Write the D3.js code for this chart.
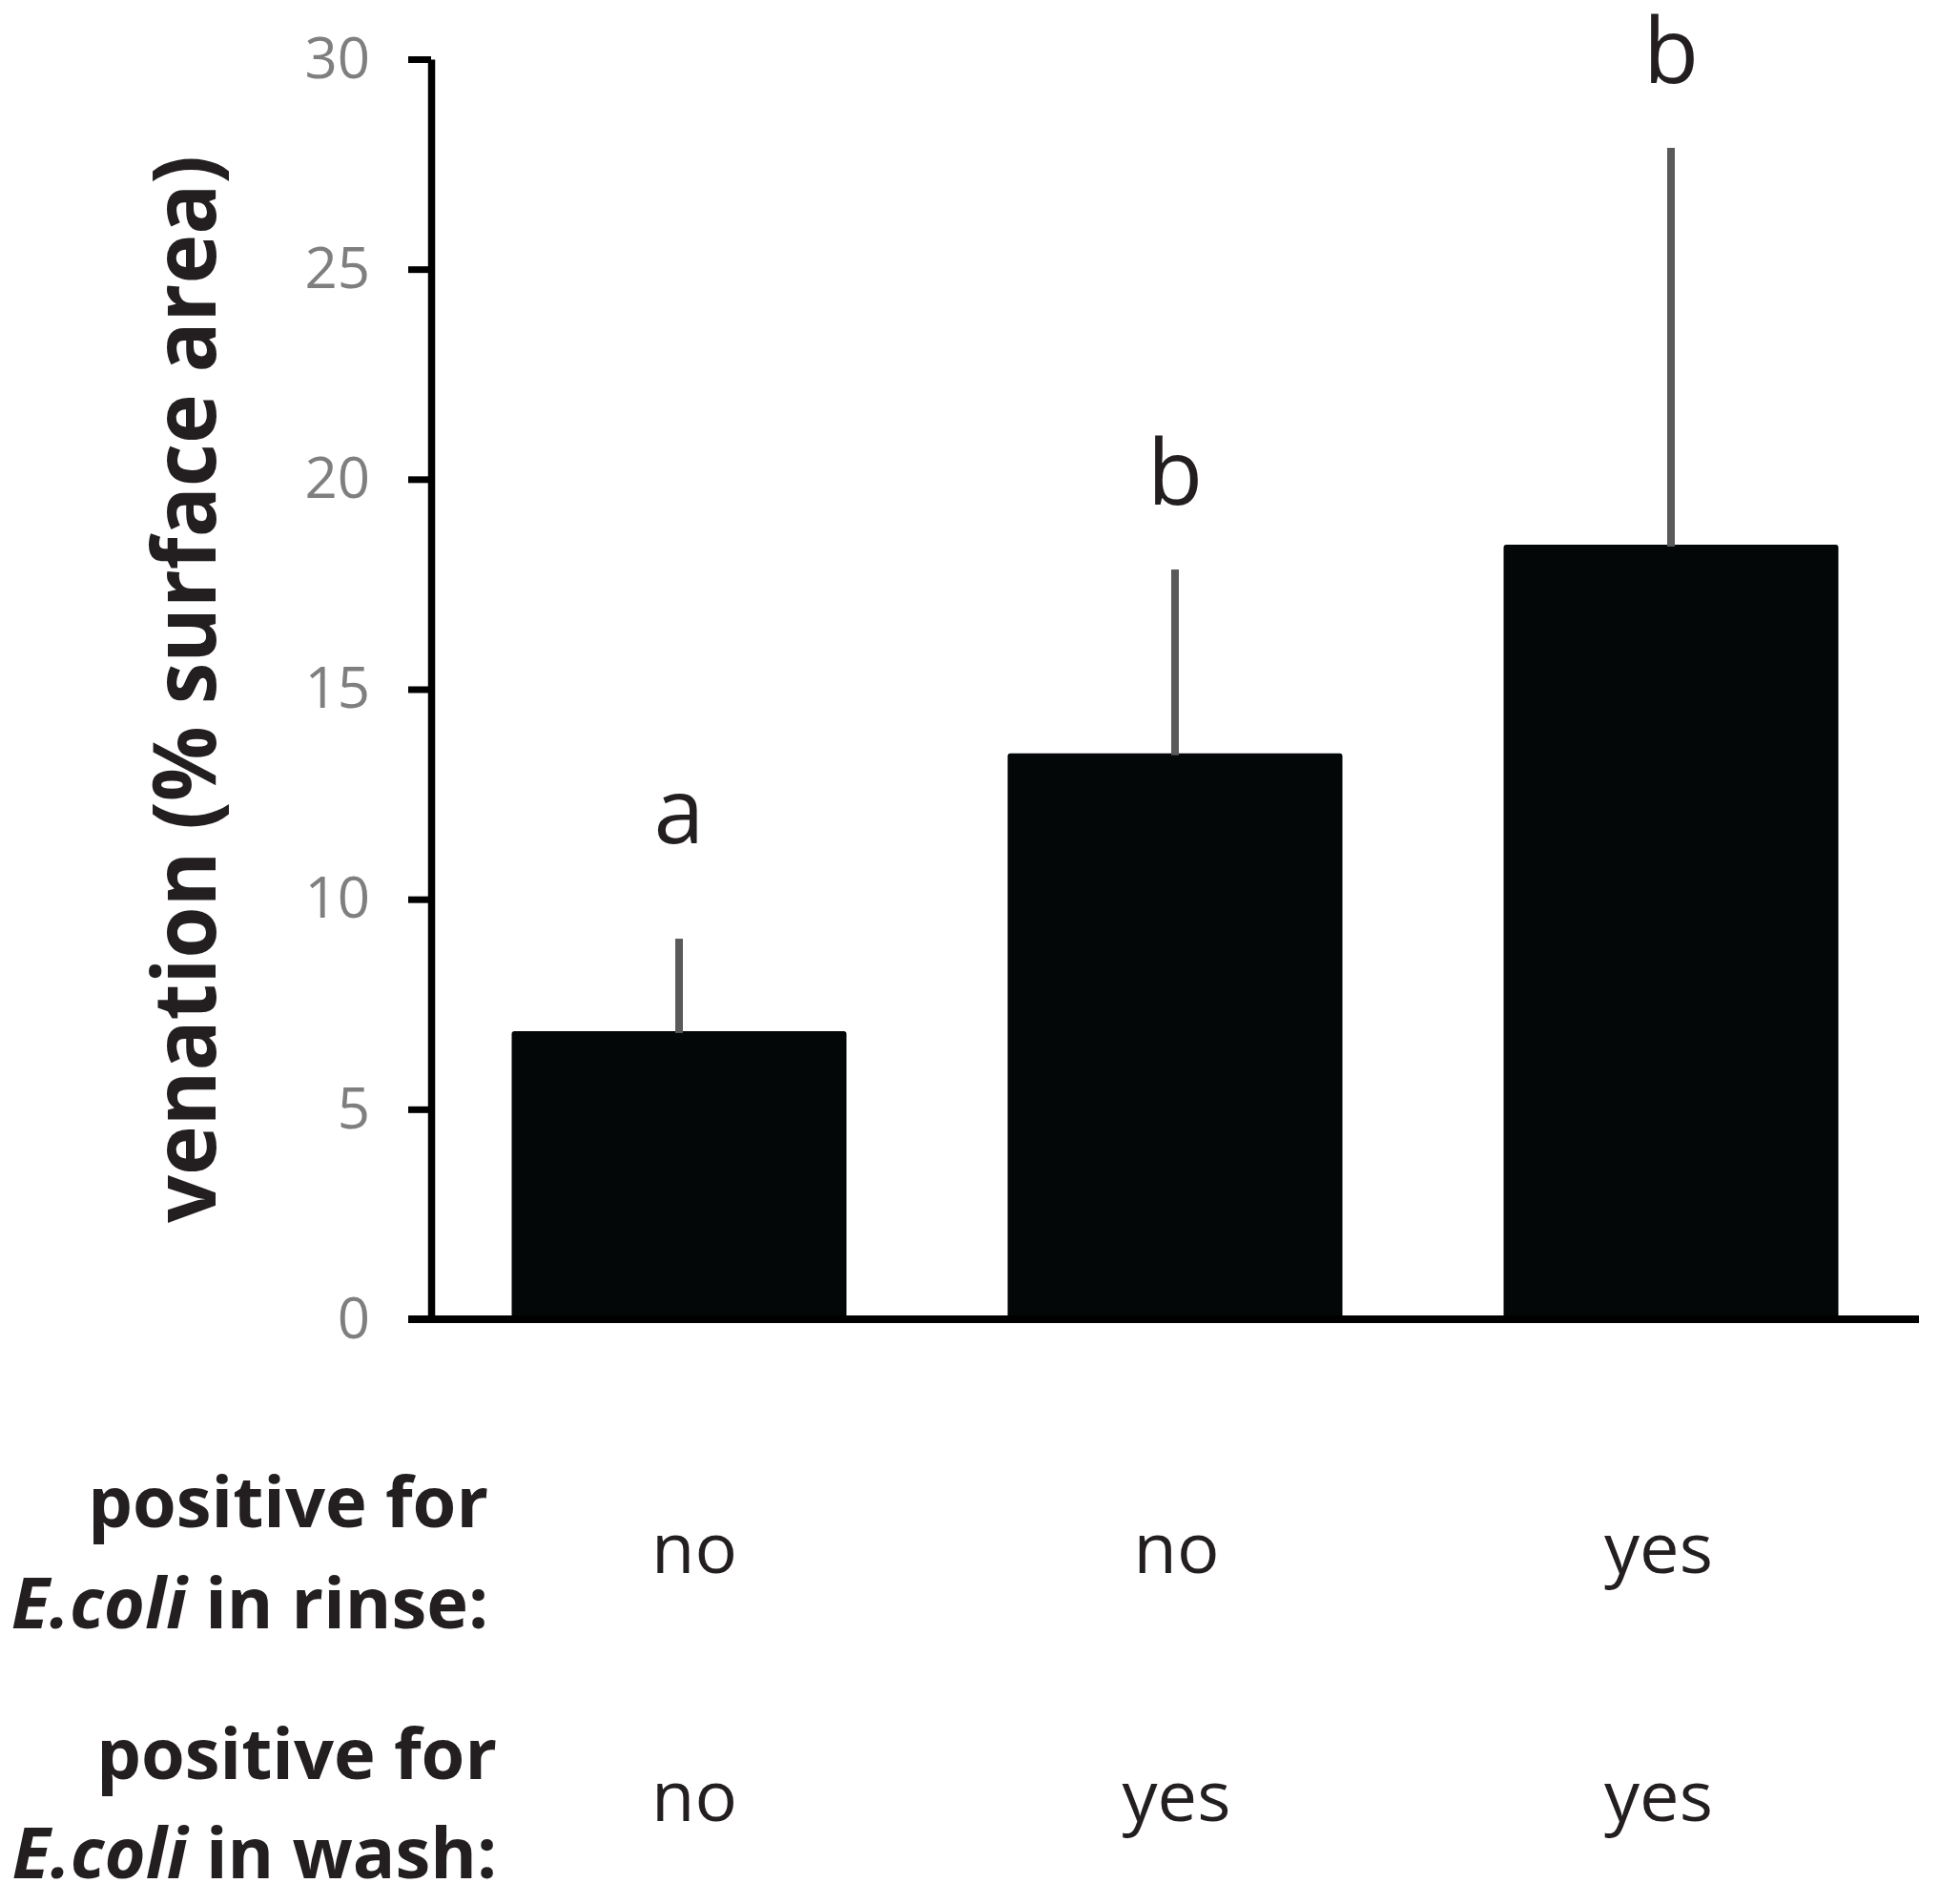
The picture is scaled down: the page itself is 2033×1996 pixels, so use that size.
<!DOCTYPE html>
<html>
<head>
<meta charset="utf-8">
<script src="https://cdn.jsdelivr.net/npm/d3@7"></script>
<style>
  body { margin: 0; background: #fff; }
  svg { display: block; }
</style>
</head>
<body>
<div id="chart"></div>
<script>
// values
var groups  = ["g1", "g2", "g3"];
var rinse   = ["no", "no", "yes"];
var wash    = ["no", "yes", "yes"];
var means   = [6.86, 13.47, 18.44];
var errs    = [2.20, 4.38, 9.45];
var letters = ["a", "b", "b"];
var yTicks  = [0, 5, 10, 15, 20, 25, 30];

var W = 2033, H = 1996;
var font = "'Open Sans', 'Noto Sans', sans-serif";

var svg = d3.select("#chart").append("svg")
    .attr("width", W)
    .attr("height", H);

var x = d3.scaleBand(groups, [452, 2012])
    .paddingInner(0.325)
    .paddingOuter(0.1625);

// the yes/no table columns sit a bit off the bar centres
var col = d3.scalePoint(groups, [728, 1739]);

var y = d3.scaleLinear([0, 30], [1383, 62]);

var rows = groups.map(function(g, i) {
  return { id: g, mean: means[i], err: errs[i], letter: letters[i], rinse: rinse[i], wash: wash[i] };
});

// bars
svg.selectAll("rect.bar").data(rows)
  .enter().append("rect")
    .attr("class", "bar")
    .attr("x", function(d) { return x(d.id); })
    .attr("y", function(d) { return y(d.mean); })
    .attr("width", x.bandwidth())
    .attr("height", function(d) { return y(0) - y(d.mean); })
    .attr("rx", 3)
    .attr("fill", "#040708");

// upper error bars
svg.selectAll("line.err").data(rows)
  .enter().append("line")
    .attr("class", "err")
    .attr("x1", function(d) { return x(d.id) + x.bandwidth() / 2; })
    .attr("x2", function(d) { return x(d.id) + x.bandwidth() / 2; })
    .attr("y1", function(d) { return y(d.mean) + 2; })
    .attr("y2", function(d) { return y(d.mean + d.err); })
    .attr("stroke", "#5a5a5a")
    .attr("stroke-width", 8);

// significance letters
svg.selectAll("text.sig").data(rows)
  .enter().append("text")
    .attr("class", "sig")
    .attr("x", function(d) { return x(d.id) + x.bandwidth() / 2; })
    .attr("y", function(d) { return y(d.mean + d.err) - (d.letter === "a" ? 100 : 68); })
    .attr("text-anchor", "middle")
    .attr("font-family", font)
    .attr("font-size", 95)
    .attr("fill", "#231f20")
    .text(function(d) { return d.letter; });

// y axis
var yAxis = svg.append("g")
    .attr("transform", "translate(452,0)")
    .call(d3.axisLeft(y).tickValues(yTicks).tickSize(24).tickSizeOuter(0).tickPadding(40));

yAxis.select(".domain").attr("stroke", "#000").attr("stroke-width", 7.5);
yAxis.selectAll(".tick line").attr("stroke", "#000").attr("stroke-width", 7);
yAxis.selectAll(".tick text")
    .attr("font-family", font)
    .attr("font-size", 60)
    .attr("fill", "#7f7f7f");

// x baseline
svg.append("line")
    .attr("x1", 428).attr("x2", 2012)
    .attr("y1", y(0)).attr("y2", y(0))
    .attr("stroke", "#000")
    .attr("stroke-width", 8);

// y label
svg.append("text")
    .attr("transform", "translate(226," + ((1282 + 163) / 2) + ") rotate(-90)")
    .attr("text-anchor", "middle")
    .attr("font-family", font)
    .attr("font-weight", "bold")
    .attr("font-size", 92)
    .attr("textLength", 1119)
    .attr("lengthAdjust", "spacingAndGlyphs")
    .attr("fill", "#231f20")
    .text("venation (% surface area)");

// table under the chart
var table = [
  { key: "rinse", right: 512, lines: [1601, 1707], valY: 1649 },
  { key: "wash",  right: 521, lines: [1865, 1969], valY: 1909 }
];

table.forEach(function(t) {
  svg.append("text")
      .attr("x", t.right).attr("y", t.lines[0])
      .attr("text-anchor", "end")
      .attr("font-family", font)
      .attr("font-weight", "bold")
      .attr("font-size", 74)
      .attr("fill", "#231f20")
      .text("positive for");

  var l2 = svg.append("text")
      .attr("x", t.right).attr("y", t.lines[1])
      .attr("text-anchor", "end")
      .attr("font-family", font)
      .attr("font-weight", "bold")
      .attr("font-size", 74)
      .attr("fill", "#231f20");
  l2.append("tspan").attr("font-style", "italic").text("E.coli");
  l2.append("tspan").text(" in " + t.key + ":");

  svg.selectAll("text.val-" + t.key).data(rows)
    .enter().append("text")
      .attr("class", "val-" + t.key)
      .attr("x", function(d) { return col(d.id); })
      .attr("y", t.valY)
      .attr("text-anchor", "middle")
      .attr("font-family", font)
      .attr("font-size", 74)
      .attr("fill", "#231f20")
      .text(function(d) { return d[t.key]; });
});
</script>
</body>
</html>
